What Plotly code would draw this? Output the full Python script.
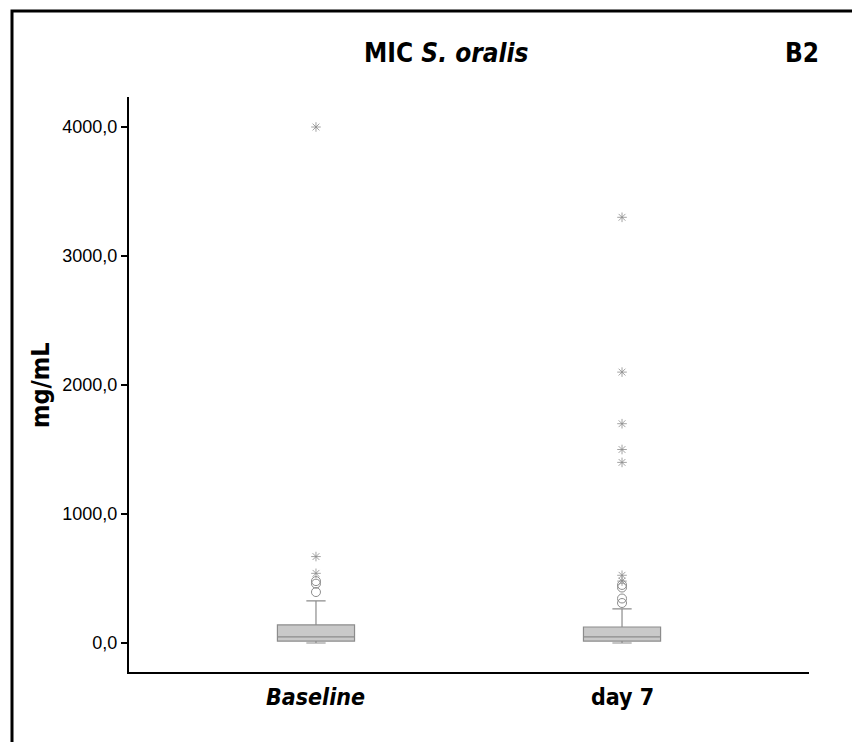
import plotly.graph_objects as go

categories = ["Baseline", "day 7"]
q1 = [15, 15]
median = [47, 47]
q3 = [140, 124]
lower_whisker = [0, 0]
upper_whisker = [326, 264]

mild_outliers = {
    "Baseline": [395, 460, 480],
    "day 7": [310, 345, 430, 450],
}
extreme_outliers = {
    "Baseline": [540, 670, 4000],
    "day 7": [480, 525, 1400, 1500, 1700, 2100, 3300],
}

tick_vals = [0, 1000, 2000, 3000, 4000]
tick_text = ["0,0", "1000,0", "2000,0", "3000,0", "4000,0"]

GRAY = "#8c8c8c"
BOLD_FONT = "DejaVu Sans Condensed, Liberation Sans, sans-serif"

fig = go.Figure()
fig.add_trace(go.Box(
    x=categories, q1=q1, median=median, q3=q3,
    lowerfence=lower_whisker, upperfence=upper_whisker,
    fillcolor="#c9c9c9", line=dict(color=GRAY, width=1.2),
    width=0.252, whiskerwidth=0.25, boxpoints=False,
    showlegend=False, hoverinfo="skip",
))

mx, my = [], []
for c in categories:
    for v in mild_outliers[c]:
        mx.append(c); my.append(v)
fig.add_trace(go.Scatter(
    x=mx, y=my, mode="markers", showlegend=False,
    marker=dict(symbol="circle-open", size=9, color=GRAY, line=dict(width=1, color=GRAY)),
))
ex, ey = [], []
for c in categories:
    for v in extreme_outliers[c]:
        ex.append(c); ey.append(v)
fig.add_trace(go.Scatter(
    x=ex, y=ey, mode="markers", showlegend=False,
    marker=dict(symbol="asterisk-open", size=8, color=GRAY, line=dict(width=0.8, color=GRAY)),
))

PL, PR, PT, PB = 129, 809, 97, 672
W, H = 852, 742
pw, ph = PR - PL, PB - PT

def px(x):
    return (x - PL) / pw

def py(y):
    return (PB - y) / ph

fig.update_layout(
    width=W, height=H,
    margin=dict(l=PL, r=W - PR, t=PT, b=H - PB),
    paper_bgcolor="white", plot_bgcolor="white",
    font=dict(family="Liberation Sans", color="black"),
    xaxis=dict(
        type="category", range=[-0.611, 1.611],
        showline=True, linecolor="black", linewidth=2,
        showgrid=False, zeroline=False, ticks="",
        showticklabels=False,
    ),
    yaxis=dict(
        range=[-224.8, 4232.6],
        showline=True, linecolor="black", linewidth=2,
        showgrid=False, zeroline=False,
        ticks="outside", ticklen=6, tickwidth=2, tickcolor="black",
        tickvals=tick_vals, ticktext=tick_text,
        tickfont=dict(family="Liberation Sans", size=18, color="black"),
    ),
    shapes=[dict(
        type="rect", xref="paper", yref="paper",
        x0=px(12), x1=px(900), y0=py(800), y1=py(11),
        line=dict(color="black", width=3), fillcolor="rgba(0,0,0,0)",
        layer="above",
    )],
    annotations=[
        dict(text="<b>MIC <i>S. oralis</i></b>", xref="paper", yref="paper",
             x=px(446), y=py(53), showarrow=False, xanchor="center", yanchor="middle",
             font=dict(family=BOLD_FONT, size=26, color="black")),
        dict(text="<b>B2</b>", xref="paper", yref="paper",
             x=px(802), y=py(53), showarrow=False, xanchor="center", yanchor="middle",
             font=dict(family=BOLD_FONT, size=26, color="black")),
        dict(text="<b>mg/mL</b>", xref="paper", yref="paper",
             x=px(40), y=py(385), showarrow=False, textangle=-90,
             xanchor="center", yanchor="middle",
             font=dict(family=BOLD_FONT, size=25, color="black")),
        dict(text="<b><i>Baseline</i></b>", xref="x", yref="paper",
             x="Baseline", y=py(697), showarrow=False, xanchor="center", yanchor="middle",
             font=dict(family=BOLD_FONT, size=23, color="black")),
        dict(text="<b>day 7</b>", xref="x", yref="paper",
             x="day 7", y=py(697), showarrow=False, xanchor="center", yanchor="middle",
             font=dict(family=BOLD_FONT, size=23, color="black")),
    ],
)

fig.write_html("out.html", config={"displayModeBar": False},
               post_script="document.body.style.margin='0px';")
